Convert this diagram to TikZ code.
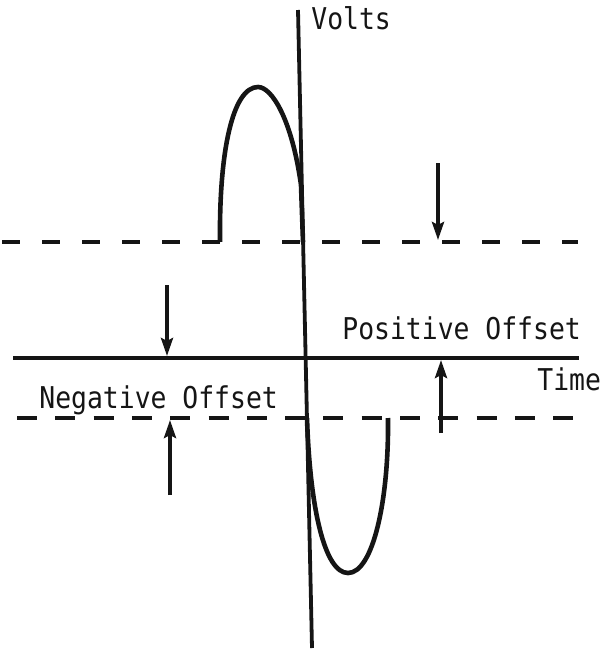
\documentclass[tikz,border=0pt]{standalone}
\usepackage{fontspec}
\usepackage{tikz}
\usetikzlibrary{arrows.meta}
\newfontfamily\plotfont[FakeStretch=0.88]{DejaVu Sans Mono}
\definecolor{ink}{HTML}{151515}
\tikzset{
  axisline/.style={line width=1.9pt, draw=ink},
  offline/.style={line width=2.1pt, draw=ink},
  lobe/.style={line width=2.3pt, draw=ink, line join=round},
  offarr/.style={-{Stealth[length=9pt,width=6pt,inset=1.5pt]}, line width=1.8pt, draw=ink},
  lbl/.style={anchor=base west, inner sep=0pt, text=ink,
    font=\plotfont\fontsize{15}{17}\selectfont}
}

\begin{document}
\begin{tikzpicture}[x=0.5pt,y=-0.5pt]
        \useasboundingbox (0,0) rectangle (611,653);
        % axes
        \coordinate (vtop) at (298,10);
        \coordinate (vbot) at (312,648);
        \coordinate (hleft) at (13,358);
        \coordinate (hright) at (579,358);
        \draw[axisline] (vtop) -- (vbot);
        \draw[axisline] (hleft) -- (hright);
        % offset levels
        \coordinate (posl) at (2,242);
        \coordinate (posr) at (578,242);
        \coordinate (negl) at (17,418);
        \coordinate (negr) at (575,418);
        \draw[offline, dash pattern=on 9pt off 11pt] (posl) -- (posr);
        \draw[offline, dash pattern=on 10pt off 9.15pt] (negl) -- (negr);
        % signal
        \draw[lobe] (220,242) .. controls (219,150) and (233,87) .. (258,87)
          .. controls (272,87) and (292,120) .. (301,185) -- (303,242);
        \draw[lobe] (307,418) .. controls (310,510) and (325,573) .. (348,573)
          .. controls (373,573) and (389,500) .. (388,418);
        % offset markers
        \coordinate (pa1) at (438,163);
        \coordinate (pa1t) at (438,240);
        \coordinate (pa2) at (441,433);
        \coordinate (pa2t) at (441,360);
        \coordinate (na1) at (167,285);
        \coordinate (na1t) at (167,356);
        \coordinate (na2) at (170,495);
        \coordinate (na2t) at (170,420);
        \draw[offarr] (pa1) -- (pa1t);
        \draw[offarr] (pa2) -- (pa2t);
        \draw[offarr] (na1) -- (na1t);
        \draw[offarr] (na2) -- (na2t);
        % labels
        \node[lbl] (volts) at (311,29) {Volts};
        \node[lbl] (time) at (537,390) {Time};
        \node[lbl] (posoff) at (342,339) {Positive Offset};
        \node[lbl] (negoff) at (39,408) {Negative Offset};
      \end{tikzpicture}
\end{document}
